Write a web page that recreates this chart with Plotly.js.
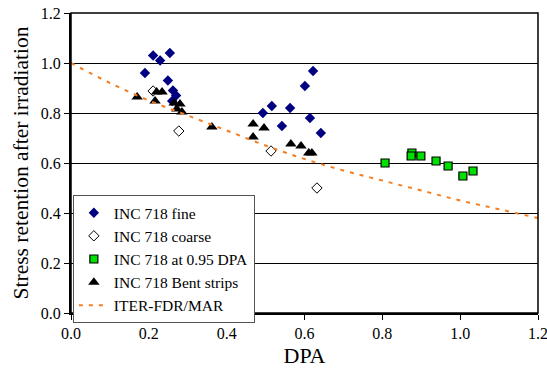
<!DOCTYPE html>
<html><head><meta charset="utf-8">
<script src="https://cdn.plot.ly/plotly-3.0.1.min.js"></script>
<style>html,body{margin:0;padding:0;background:#fff}#c{width:547px;height:372px}</style>
</head><body><div id="c"></div>
<script>
const fineX = [0.190,0.211,0.229,0.254,0.249,0.262,0.270,0.260,0.622,0.601,0.516,0.493,0.563,0.542,0.614,0.642];
const fineY = [0.96,1.03,1.01,1.04,0.93,0.89,0.87,0.848,0.968,0.908,0.828,0.80,0.82,0.748,0.78,0.72];
const coarseX = [0.211,0.277,0.514,0.632];
const coarseY = [0.888,0.728,0.648,0.50];
const dpa95X = [0.807,0.876,0.874,0.899,0.938,0.969,1.007,1.033];
const dpa95Y = [0.60,0.64,0.628,0.628,0.608,0.588,0.548,0.568];
const bentX = [0.170,0.216,0.220,0.234,0.265,0.280,0.272,0.285,0.362,0.468,0.496,0.468,0.565,0.591,0.611,0.619];
const bentY = [0.864,0.848,0.884,0.884,0.84,0.836,0.816,0.804,0.744,0.756,0.74,0.704,0.676,0.668,0.64,0.64];
const iterX = [0,0.1,0.2,0.3,0.4,0.5,0.6,0.7,0.8,0.9,1.0,1.1,1.2];
const iterY = [1.0,0.92,0.85,0.79,0.73,0.67,0.616,0.57,0.53,0.49,0.45,0.415,0.38];
const yTicks = [0,0.2,0.4,0.6,0.8,1.0,1.2];
const xTicks = [0,0.2,0.4,0.6,0.8,1.0,1.2];

const font = "Liberation Serif";
const traces = [
  {x: fineX, y: fineY, mode:'markers', type:'scatter', name:'INC 718 fine',
   marker:{symbol:'diamond', size:8, color:'#000080', line:{width:0}}},
  {x: coarseX, y: coarseY, mode:'markers', type:'scatter', name:'INC 718 coarse',
   marker:{symbol:'diamond-open', size:8, color:'#000', line:{width:1}}},
  {x: dpa95X, y: dpa95Y, mode:'markers', type:'scatter', name:'INC 718 at 0.95 DPA',
   marker:{symbol:'square', size:8, color:'#00e000', line:{width:1.2, color:'#000'}}},
  {x: bentX, y: bentY, mode:'markers', type:'scatter', name:'INC 718 Bent strips',
   marker:{symbol:'triangle-up', size:10, color:'#000', line:{width:0}}},
  {x: iterX, y: iterY, mode:'lines', type:'scatter', name:'ITER-FDR/MAR',
   line:{color:'#f47d20', width:2, dash:'4px,6px', shape:'spline'}}
];
const layout = {
  width:547, height:372,
  margin:{l:71, r:9, t:13, b:59},
  paper_bgcolor:'#fff', plot_bgcolor:'#fff',
  font:{family:font, size:16, color:'#000'},
  showlegend:true,
  legend:{x:0.004, y:0.393, xanchor:'left', yanchor:'top', bgcolor:'#fff',
    bordercolor:'#555', borderwidth:1, font:{family:font, size:15.5}, tracegroupgap:0, itemwidth:30},
  xaxis:{range:[0,1.2], tickvals:xTicks, ticktext:xTicks.map(v=>v.toFixed(1)),
    ticks:'outside', ticklen:5, tickwidth:1, tickcolor:'#000', ticklabeloverflow:'allow',
    showline:true, linecolor:'#000', linewidth:2, mirror:false, showgrid:false, zeroline:false,
    tickfont:{family:font, size:16},
    title:{text:'DPA', font:{family:font, size:22}, standoff:6}},
  yaxis:{range:[0,1.2], tickvals:yTicks, ticktext:yTicks.map(v=>v.toFixed(1)),
    ticks:'outside', ticklen:5, tickwidth:1, tickcolor:'#000', ticklabeloverflow:'allow',
    showline:true, linecolor:'#000', linewidth:2, showgrid:true, gridcolor:'#000', gridwidth:1, zeroline:false,
    tickfont:{family:font, size:16},
    title:{text:'Stress retention after irradiation', font:{family:font, size:21.5}, standoff:6}},
  shapes:[{type:'rect', xref:'paper', yref:'paper', x0:0, x1:1, y0:0, y1:1, line:{color:'#000', width:1.5}, layer:'above'}]
};
Plotly.newPlot('c', traces, layout, {displayModeBar:false, staticPlot:true});
</script></body></html>
